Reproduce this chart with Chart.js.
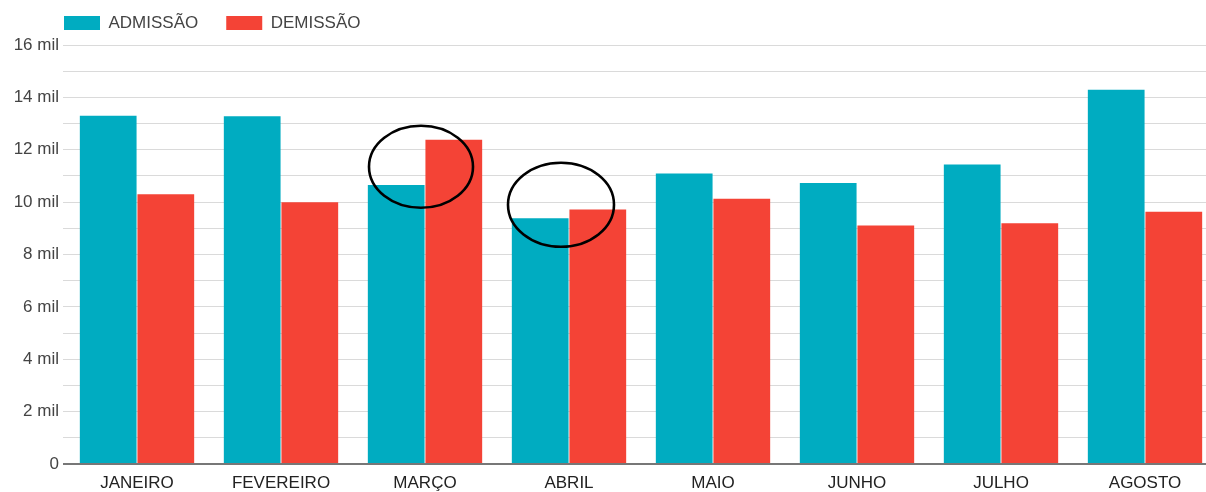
<!DOCTYPE html>
<html lang="pt">
<head>
<meta charset="utf-8">
<title>Admissão x Demissão</title>
<script src="https://cdn.jsdelivr.net/npm/chart.js@4/dist/chart.umd.min.js"></script>
<style>
  html, body { margin: 0; padding: 0; background: #fff; overflow: hidden; }
  #wrap { position: absolute; left: 0; top: 0; width: 1218px; height: 492px; }
</style>
</head>
<body>
<div id="wrap"><canvas id="chart"></canvas></div>
<script>
// Monthly hires and dismissals
const months = ['JANEIRO', 'FEVEREIRO', 'MARÇO', 'ABRIL', 'MAIO', 'JUNHO', 'JULHO', 'AGOSTO'];
const admissoes = [13300, 13280, 10650, 9380, 11090, 10730, 11440, 14290];
const demissoes = [10300, 10000, 12380, 9720, 10130, 9110, 9190, 9630];
const yTicks = [0, 2000, 4000, 6000, 8000, 10000, 12000, 14000, 16000];

const FONT = "'Liberation Sans', Arial, sans-serif";

// Hand-drawn style circles around the months where dismissals beat hires
const highlights = [
  { index: 2, shift: -4, value: 11350, rx: 52, ry: 41 },
  { index: 3, shift: -8, value: 9900, rx: 53, ry: 42 }
];

const circlePlugin = {
  id: 'circles',
  afterDatasetsDraw(chart) {
    const { ctx, scales: { x, y } } = chart;
    ctx.save();
    ctx.strokeStyle = '#000';
    ctx.lineWidth = 2.6;
    highlights.forEach(h => {
      ctx.beginPath();
      ctx.ellipse(x.getPixelForValue(h.index) + h.shift, y.getPixelForValue(h.value), h.rx, h.ry, 0, 0, Math.PI * 2);
      ctx.stroke();
    });
    ctx.restore();
  }
};

// Compact legend: keep wide spacing between items without pushing the plot down
const legendLayout = {
  id: 'legendLayout',
  beforeInit(chart) {
    const legend = chart.legend;
    const fit = legend.fit;
    legend.fit = function () { fit.call(this); this.height = 45; };
  },
  afterLayout(chart) {
    const legend = chart.legend;
    legend.left = 36;
    legend.top = -13.5;
  }
};

new Chart(document.getElementById('chart'), {
  type: 'bar',
  data: {
    labels: months,
    datasets: [
      { label: 'ADMISSÃO', data: admissoes, backgroundColor: '#00ACC1' },
      { label: 'DEMISSÃO', data: demissoes, backgroundColor: '#F44336' }
    ]
  },
  options: {
    responsive: true,
    maintainAspectRatio: false,
    animation: false,
    layout: { padding: { left: 0, right: 1, top: 0, bottom: 0 } },
    datasets: { bar: { categoryPercentage: 0.8, barPercentage: 0.985, borderWidth: 0 } },
    plugins: {
      legend: {
        position: 'top',
        align: 'start',
        labels: {
          boxWidth: 36,
          boxHeight: 14,
          padding: 28,
          color: '#444',
          font: { family: FONT, size: 17 }
        }
      },
      tooltip: { enabled: true }
    },
    scales: {
      x: {
        grid: { display: false, drawTicks: false },
        border: { display: false },
        ticks: { color: '#222', padding: 9, font: { family: FONT, size: 17 } },
        afterFit(scale) { scale.height = 28; }
      },
      y: {
        min: 0,
        max: 16000,
        border: { display: false },
        grid: {
          color: c => (c.tick && c.tick.value === 0 ? '#777' : '#dadada'),
          lineWidth: c => (c.tick && c.tick.value === 0 ? 2 : 1),
          tickLength: 2,
          drawTicks: true
        },
        ticks: {
          stepSize: 1000,
          padding: 4,
          color: '#444',
          font: { family: FONT, size: 17 },
          callback: v => (yTicks.includes(v) ? (v === 0 ? '0' : (v / 1000) + ' mil') : '')
        },
        afterFit(scale) { scale.width = 65; }
      }
    }
  },
  plugins: [legendLayout, circlePlugin]
});
</script>
</body>
</html>
